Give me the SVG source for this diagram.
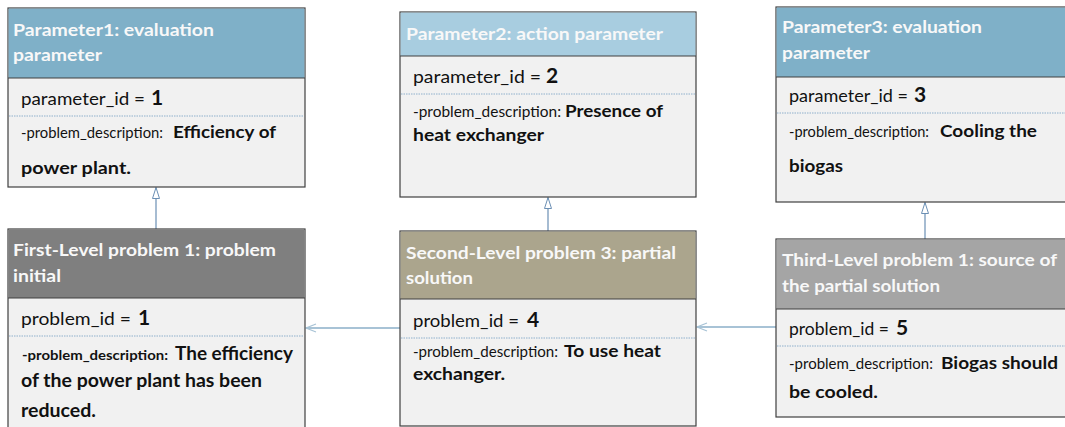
<svg xmlns="http://www.w3.org/2000/svg" width="1065" height="427" viewBox="0 0 1065 427">
<style>
.body{fill:#f1f1f1;stroke:#404040;stroke-width:1.2}
.hl{stroke:#404040;stroke-width:1.2}
.dot{stroke:#8fb0cc;stroke-width:1;stroke-dasharray:1.5 1}
.ttl{font-family:Lato,"Open Sans",sans-serif;font-weight:bold;font-size:17px;fill:#f8f8f8}
.id{font-family:Lato,"Open Sans",sans-serif;font-size:18px;fill:#111}
.num{font-family:Lato,"Open Sans",sans-serif;font-weight:bold;font-size:21px;fill:#111}
.sm{font-family:Lato,"Open Sans",sans-serif;font-size:14.5px;fill:#111}
.smb{font-family:Lato,"Open Sans",sans-serif;font-size:14px;font-weight:bold;fill:#111}
.b{font-family:Lato,"Open Sans",sans-serif;font-weight:bold;font-size:17px;fill:#111}
.bl{font-family:Lato,"Open Sans",sans-serif;font-weight:bold;font-size:18px;fill:#111}
.vc{stroke:#6b8fb4;stroke-width:1.2;fill:none}
.hc{stroke:#a8c3d6;stroke-width:1.8;fill:none}
</style>
<defs>
<marker id="tri" markerUnits="userSpaceOnUse" viewBox="0 0 12 9" refX="11.5" refY="4.5" markerWidth="12" markerHeight="9" orient="auto">
<path d="M0.5,1 L11.5,4.5 L0.5,8 Z" fill="#ffffff" stroke="#6b8fb4" stroke-width="1"/>
</marker>
<marker id="vee" markerUnits="userSpaceOnUse" viewBox="0 0 12 10" refX="11" refY="5" markerWidth="12" markerHeight="10" orient="auto">
<path d="M1,1 L11,5 L1,9" fill="none" stroke="#a8c3d6" stroke-width="1.3"/>
</marker>
</defs>
<rect width="1065" height="427" fill="#ffffff"/>

<g id="connectors">
<line class="vc" x1="156" y1="229" x2="156" y2="187.5" marker-end="url(#tri)"/>
<line class="vc" x1="548" y1="231" x2="548" y2="197.5" marker-end="url(#tri)"/>
<line class="vc" x1="925" y1="239" x2="925" y2="202.5" marker-end="url(#tri)"/>
<line class="hc" x1="400" y1="328" x2="306" y2="328" marker-end="url(#vee)"/>
<line class="hc" x1="776" y1="327" x2="697" y2="327" marker-end="url(#vee)"/>
</g>

<g id="param1">
<rect class="body" x="8" y="8" width="297" height="179"/>
<rect x="8.6" y="8.6" width="295.8" height="69.4" fill="#7fb0c8"/>
<line class="hl" x1="8" y1="78" x2="305" y2="78"/>
<line class="dot" x1="9" y1="116" x2="304" y2="116"/>
<text class="ttl" x="13" y="36" textLength="201" lengthAdjust="spacingAndGlyphs">Parameter1: evaluation</text>
<text class="ttl" x="13" y="61" textLength="89" lengthAdjust="spacingAndGlyphs">parameter</text>
<text class="id" x="21" y="105" textLength="124" lengthAdjust="spacingAndGlyphs">parameter_id =</text>
<text class="num" x="151" y="105">1</text>
<text class="sm" x="21" y="138" textLength="142" lengthAdjust="spacingAndGlyphs">-problem_description:</text>
<text class="b" x="173" y="138" textLength="103" lengthAdjust="spacingAndGlyphs">Efficiency of</text>
<text class="b" x="21" y="174" textLength="110" lengthAdjust="spacingAndGlyphs">power plant.</text>
</g>

<g id="param2">
<rect class="body" x="400" y="12" width="296" height="185"/>
<rect x="400.6" y="12.6" width="294.8" height="43.4" fill="#a8cde0"/>
<line class="hl" x1="400" y1="56" x2="696" y2="56"/>
<line class="dot" x1="401" y1="94" x2="695" y2="94"/>
<text class="ttl" x="406" y="40" textLength="257" lengthAdjust="spacingAndGlyphs">Parameter2: action parameter</text>
<text class="id" x="413" y="83" textLength="128" lengthAdjust="spacingAndGlyphs">parameter_id =</text>
<text class="num" x="546" y="83">2</text>
<text class="sm" x="413" y="117" textLength="148" lengthAdjust="spacingAndGlyphs">-problem_description:</text>
<text class="b" x="565" y="117" textLength="98" lengthAdjust="spacingAndGlyphs">Presence of</text>
<text class="b" x="413" y="141" textLength="131" lengthAdjust="spacingAndGlyphs">heat exchanger</text>
</g>

<g id="param3">
<rect class="body" x="776" y="7" width="300" height="195"/>
<rect x="776.6" y="7.6" width="298.8" height="69.4" fill="#7fb0c8"/>
<line class="hl" x1="776" y1="77" x2="1076" y2="77"/>
<line class="dot" x1="777" y1="113" x2="1076" y2="113"/>
<text class="ttl" x="782" y="33" textLength="200" lengthAdjust="spacingAndGlyphs">Parameter3: evaluation</text>
<text class="ttl" x="782" y="59" textLength="88" lengthAdjust="spacingAndGlyphs">parameter</text>
<text class="id" x="789" y="102" textLength="119" lengthAdjust="spacingAndGlyphs">parameter_id =</text>
<text class="num" x="914" y="102">3</text>
<text class="sm" x="789" y="137" textLength="140" lengthAdjust="spacingAndGlyphs">-problem_description:</text>
<text class="b" x="940" y="137" textLength="97" lengthAdjust="spacingAndGlyphs">Cooling the</text>
<text class="b" x="789" y="172" textLength="54" lengthAdjust="spacingAndGlyphs">biogas</text>
</g>

<g id="problem1">
<rect class="body" x="8" y="229" width="297" height="210"/>
<rect x="8.6" y="229.6" width="295.8" height="68.4" fill="#7f7f7f"/>
<line class="hl" x1="8" y1="298" x2="305" y2="298"/>
<line class="dot" x1="9" y1="336" x2="304" y2="336"/>
<text class="ttl" x="13" y="256" textLength="263" lengthAdjust="spacingAndGlyphs">First-Level problem 1: problem</text>
<text class="ttl" x="13" y="282" textLength="48" lengthAdjust="spacingAndGlyphs">initial</text>
<text class="id" x="21" y="325" textLength="110" lengthAdjust="spacingAndGlyphs">problem_id =</text>
<text class="num" x="138" y="325">1</text>
<text class="smb" x="22" y="360" textLength="146" lengthAdjust="spacingAndGlyphs">-problem_description:</text>
<text class="bl" x="175" y="360" textLength="118" lengthAdjust="spacingAndGlyphs">The efficiency</text>
<text class="bl" x="21" y="387" textLength="241" lengthAdjust="spacingAndGlyphs">of the power plant has been</text>
<text class="bl" x="21" y="417" textLength="75" lengthAdjust="spacingAndGlyphs">reduced.</text>
</g>

<g id="problem3">
<rect class="body" x="400" y="231" width="296" height="195"/>
<rect x="400.6" y="231.6" width="294.8" height="67.4" fill="#aba58d"/>
<line class="hl" x1="400" y1="299" x2="696" y2="299"/>
<line class="dot" x1="401" y1="338" x2="695" y2="338"/>
<text class="ttl" x="406" y="259" textLength="270" lengthAdjust="spacingAndGlyphs">Second-Level problem 3: partial</text>
<text class="ttl" x="406" y="284" textLength="67" lengthAdjust="spacingAndGlyphs">solution</text>
<text class="id" x="413" y="327" textLength="106" lengthAdjust="spacingAndGlyphs">problem_id =</text>
<text class="num" x="527" y="327">4</text>
<text class="sm" x="413" y="357" textLength="145" lengthAdjust="spacingAndGlyphs">-problem_description:</text>
<text class="b" x="564" y="357" textLength="97" lengthAdjust="spacingAndGlyphs">To use heat</text>
<text class="b" x="413" y="380" textLength="92" lengthAdjust="spacingAndGlyphs">exchanger.</text>
</g>

<g id="problem5">
<rect class="body" x="776" y="239" width="300" height="178"/>
<rect x="776.6" y="239.6" width="298.8" height="69.4" fill="#a5a5a5"/>
<line class="hl" x1="776" y1="309" x2="1076" y2="309"/>
<line class="dot" x1="777" y1="346" x2="1076" y2="346"/>
<text class="ttl" x="782" y="266" textLength="275" lengthAdjust="spacingAndGlyphs">Third-Level problem 1: source of</text>
<text class="ttl" x="782" y="292" textLength="158" lengthAdjust="spacingAndGlyphs">the partial solution</text>
<text class="id" x="789" y="335" textLength="100" lengthAdjust="spacingAndGlyphs">problem_id =</text>
<text class="num" x="896" y="335">5</text>
<text class="sm" x="789" y="369" textLength="144" lengthAdjust="spacingAndGlyphs">-problem_description:</text>
<text class="b" x="941" y="369" textLength="117" lengthAdjust="spacingAndGlyphs">Biogas should</text>
<text class="b" x="789" y="398" textLength="89" lengthAdjust="spacingAndGlyphs">be cooled.</text>
</g>
</svg>
